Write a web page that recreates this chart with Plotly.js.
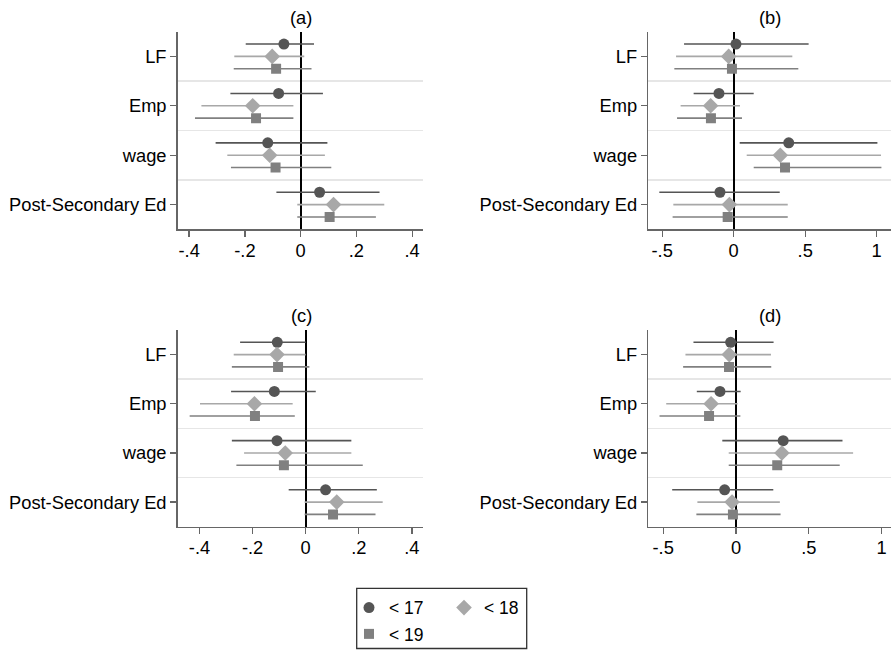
<!DOCTYPE html>
<html>
<head>
<meta charset="utf-8">
<script src="https://cdn.plot.ly/plotly-3.0.1.min.js"></script>
<style>html,body{margin:0;padding:0;background:#fff;}#chart{width:891px;height:652px;}</style>
</head>
<body>
<div id="chart"></div>
<script>
// Categories (top to bottom)
const categories = ["LF", "Emp", "wage", "Post-Secondary Ed"];
const seriesNames = ["< 17", "< 18", "< 19"];
const panelTitles = ["(a)", "(b)", "(c)", "(d)"];

// Panel (a)
const a17 = [-0.060, -0.079, -0.118, 0.068];
const a17lo = [-0.197, -0.252, -0.305, -0.087];
const a17hi = [0.048, 0.080, 0.096, 0.283];
const a18 = [-0.102, -0.172, -0.111, 0.118];
const a18lo = [-0.238, -0.356, -0.263, -0.012];
const a18hi = [0.013, -0.026, 0.087, 0.300];
const a19 = [-0.088, -0.160, -0.090, 0.104];
const a19lo = [-0.240, -0.379, -0.250, -0.012];
const a19hi = [0.039, -0.026, 0.110, 0.270];

// Panel (b)
const b17 = [0.016, -0.103, 0.385, -0.096];
const b17lo = [-0.347, -0.280, 0.042, -0.520];
const b17hi = [0.524, 0.140, 1.005, 0.322];
const b18 = [-0.035, -0.161, 0.326, -0.030];
const b18lo = [-0.403, -0.371, 0.091, -0.422];
const b18hi = [0.410, 0.044, 1.030, 0.378];
const b19 = [-0.012, -0.159, 0.359, -0.042];
const b19lo = [-0.415, -0.396, 0.140, -0.427];
const b19hi = [0.452, 0.058, 1.033, 0.378];

// Panel (c)
const c17 = [-0.107, -0.118, -0.108, 0.075];
const c17lo = [-0.247, -0.281, -0.278, -0.064];
const c17hi = [0.000, 0.038, 0.172, 0.268];
const c18 = [-0.108, -0.193, -0.077, 0.117];
const c18lo = [-0.271, -0.398, -0.232, -0.004];
const c18hi = [0.000, -0.049, 0.172, 0.290];
const c19 = [-0.104, -0.191, -0.082, 0.103];
const c19lo = [-0.278, -0.437, -0.261, -0.004];
const c19hi = [0.014, -0.041, 0.215, 0.263];

// Panel (d)
const d17 = [-0.037, -0.110, 0.324, -0.078];
const d17lo = [-0.292, -0.269, -0.094, -0.438];
const d17hi = [0.258, 0.032, 0.731, 0.256];
const d18 = [-0.046, -0.171, 0.315, -0.027];
const d18lo = [-0.347, -0.479, -0.050, -0.265];
const d18hi = [0.240, 0.011, 0.804, 0.301];
const d19 = [-0.048, -0.185, 0.283, -0.021];
const d19lo = [-0.363, -0.525, -0.050, -0.272];
const d19hi = [0.242, 0.030, 0.712, 0.306];

// Tick labels
const ticksAC = [-0.4, -0.2, 0, 0.2, 0.4];
const tickTextAC = ["-.4", "-.2", "0", ".2", ".4"];
const ticksBD = [-0.5, 0, 0.5, 1];
const tickTextBD = ["-.5", "0", ".5", "1"];

const panels = [
  [[a17, a17lo, a17hi], [a18, a18lo, a18hi], [a19, a19lo, a19hi]],
  [[b17, b17lo, b17hi], [b18, b18lo, b18hi], [b19, b19lo, b19hi]],
  [[c17, c17lo, c17hi], [c18, c18lo, c18hi], [c19, c19lo, c19hi]],
  [[d17, d17lo, d17hi], [d18, d18lo, d18hi], [d19, d19lo, d19hi]]
];

const styles = [
  {symbol: "circle", color: "#555555", size: 11, legend: "legend"},
  {symbol: "diamond", color: "#a8a8a8", size: 12, legend: "legend"},
  {symbol: "square", color: "#808080", size: 10, legend: "legend2"}
];
const offsets = [-0.25, 0, 0.25];
const catPos = categories.map((c, i) => i + 1);

const traces = [];
panels.forEach((panel, p) => {
  const xa = p === 0 ? "x" : "x" + (p + 1);
  const ya = p === 0 ? "y" : "y" + (p + 1);
  panel.forEach((s, k) => {
    const [est, lo, hi] = s;
    const st = styles[k];
    traces.push({
      type: "scatter", mode: "markers",
      x: est,
      y: catPos.map(v => v + offsets[k]),
      xaxis: xa, yaxis: ya,
      name: seriesNames[k],
      legend: st.legend,
      showlegend: p === 0,
      marker: {symbol: st.symbol, color: st.color, size: st.size, line: {width: 0}},
      error_x: {
        type: "data", symmetric: false,
        array: hi.map((h, i) => h - est[i]),
        arrayminus: lo.map((l, i) => est[i] - l),
        color: st.color, thickness: 1.6, width: 0
      },
      hoverinfo: "x+name"
    });
  });
});

const font = {family: "Liberation Sans, Arial, sans-serif", size: 18.3, color: "#000"};
const W = 891, H = 652;
function xd(l, r) { return [l / W, r / W]; }
function yd(t, b) { return [(H - b) / H, (H - t) / H]; }

function xaxisDef(domain, range, tv, tt, anchor) {
  return {
    domain: domain, range: range, anchor: anchor,
    tickmode: "array", tickvals: tv, ticktext: tt,
    showline: true, linecolor: "#666666", linewidth: 1.5,
    ticks: "outside", ticklen: 6, tickwidth: 1.3, tickcolor: "#666666",
    ticklabelstandoff: -2,
    showgrid: false,
    zeroline: true, zerolinecolor: "#000000", zerolinewidth: 2,
    tickfont: font, fixedrange: true
  };
}
function yaxisDef(domain, anchor) {
  return {
    domain: domain, range: [4.5, 0.5], anchor: anchor,
    tickmode: "array", tickvals: catPos, ticktext: categories,
    showline: true, linecolor: "#666666", linewidth: 1.5,
    ticks: "outside", ticklen: 6, tickwidth: 1.3, tickcolor: "#666666",
    showgrid: false, zeroline: false,
    minor: {tickmode: "array", tickvals: [1.5, 2.5, 3.5], showgrid: true,
            gridcolor: "#e6e6e6", gridwidth: 1.5, ticks: ""},
    tickfont: font, fixedrange: true
  };
}

const yTop = yd(31.7, 229.3), yBot = yd(330, 526.7);
const layout = {
  width: W, height: H,
  margin: {l: 0, r: 0, t: 0, b: 0, pad: 0},
  paper_bgcolor: "#ffffff", plot_bgcolor: "#ffffff",
  font: font,
  xaxis: xaxisDef(xd(177.7, 423.3), [-0.441, 0.44], ticksAC, tickTextAC, "y"),
  yaxis: yaxisDef(yTop, "x"),
  xaxis2: xaxisDef(xd(648.3, 891), [-0.597, 1.10], ticksBD, tickTextBD, "y2"),
  yaxis2: yaxisDef(yTop, "x2"),
  xaxis3: xaxisDef(xd(177.7, 423.3), [-0.482, 0.443], ticksAC, tickTextAC, "y3"),
  yaxis3: yaxisDef(yBot, "x3"),
  xaxis4: xaxisDef(xd(648.3, 891), [-0.602, 1.064], ticksBD, tickTextBD, "y4"),
  yaxis4: yaxisDef(yBot, "x4"),
  annotations: [
    {text: panelTitles[0], x: 300.5 / W, y: (H - 18) / H},
    {text: panelTitles[1], x: 770 / W, y: (H - 18) / H},
    {text: panelTitles[2], x: 301 / W, y: (H - 315) / H},
    {text: panelTitles[3], x: 770 / W, y: (H - 315) / H}
  ].map(a => Object.assign({xref: "paper", yref: "paper", xanchor: "center", yanchor: "middle",
                            showarrow: false, font: font}, a)),
  shapes: [
    {type: "rect", xref: "paper", yref: "paper",
     x0: 356.7 / W, x1: 526.7 / W, y0: (H - 648.5) / H, y1: (H - 588.3) / H,
     line: {color: "#333333", width: 1.3}, fillcolor: "rgba(0,0,0,0)"}
  ],
  legend: {
    orientation: "h", x: 349 / W, xanchor: "left", y: (H - 607.7) / H, yanchor: "middle",
    bgcolor: "rgba(0,0,0,0)", borderwidth: 0, entrywidth: 50,
    font: {family: font.family, size: 17.5, color: "#000"}, itemwidth: 30, tracegroupgap: 0
  },
  legend2: {
    orientation: "h", x: 349 / W, xanchor: "left", y: (H - 634) / H, yanchor: "middle",
    bgcolor: "rgba(0,0,0,0)", borderwidth: 0,
    font: {family: font.family, size: 17.5, color: "#000"}, itemwidth: 30
  },
  hovermode: false
};

Plotly.newPlot("chart", traces, layout, {displayModeBar: false, staticPlot: true});
</script>
</body>
</html>
